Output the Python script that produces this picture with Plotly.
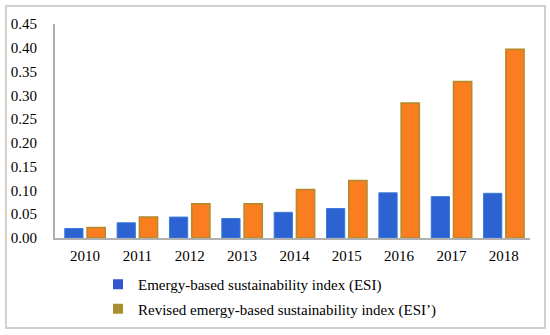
import plotly.graph_objects as go

years = ["2010", "2011", "2012", "2013", "2014", "2015", "2016", "2017", "2018"]
esi = [0.020, 0.032, 0.044, 0.041, 0.054, 0.062, 0.095, 0.087, 0.094]
esi_rev = [0.022, 0.044, 0.072, 0.072, 0.102, 0.121, 0.284, 0.329, 0.397]
name_esi = "Emergy-based sustainability index (ESI)"
name_rev = "Revised emergy-based sustainability index (ESI’)"

FONT = "Liberation Serif, Times New Roman, serif"

fig = go.Figure()
fig.add_trace(go.Bar(x=years, y=esi, name=name_esi, showlegend=False,
                     marker=dict(color="#2c62d2", line=dict(color="#3a7ad8", width=1))))
fig.add_trace(go.Bar(x=years, y=esi_rev, name=name_rev, showlegend=False,
                     marker=dict(color="#fa7d1f", line=dict(color="#b08c2c", width=1.5))))
# legend entries
fig.add_trace(go.Scatter(x=[years[0]], y=[None], mode="markers", name=name_esi,
                         legendgroup="a", hoverinfo="skip",
                         marker=dict(symbol="square", size=10, color="#3356cc")))
fig.add_trace(go.Scatter(x=[years[0]], y=[None], mode="markers", name=name_rev,
                         legendgroup="b", hoverinfo="skip",
                         marker=dict(symbol="square", size=10, color="#a89030")))

fig.update_layout(
    width=550, height=335,
    margin=dict(l=55, r=20, t=24, b=97, autoexpand=False),
    paper_bgcolor="white", plot_bgcolor="white",
    barmode="group", bargap=0.15, bargroupgap=0.18,
    font=dict(family=FONT, size=15, color="black"),
    legend=dict(xref="container", yref="container", x=98/550, y=1 - 268/335,
                xanchor="left", yanchor="top", traceorder="grouped",
                tracegroupgap=2, font=dict(family=FONT, size=15),
                itemwidth=30, bgcolor="rgba(0,0,0,0)"),
    shapes=[dict(type="rect", xref="paper", yref="paper",
                 x0=-49/475, x1=490/475, y0=-90/214, y1=1 + 18/214,
                 line=dict(color="#d0d0d0", width=2), layer="below")],
)
fig.update_xaxes(type="category", showline=True, linecolor="#b0b0b0", linewidth=1.5,
                 ticks="", ticklabelstandoff=3, showgrid=False,
                 tickfont=dict(family=FONT, size=15))
fig.update_yaxes(range=[0, 0.45], dtick=0.05, tickformat=".2f",
                 showline=True, linecolor="#b0b0b0", linewidth=2,
                 showgrid=False, zeroline=False, ticks="",
                 ticklabelstandoff=13,
                 tickfont=dict(family=FONT, size=15))

fig.write_html("out.html", config={"displayModeBar": False},
               post_script="document.body.style.margin='0';")
